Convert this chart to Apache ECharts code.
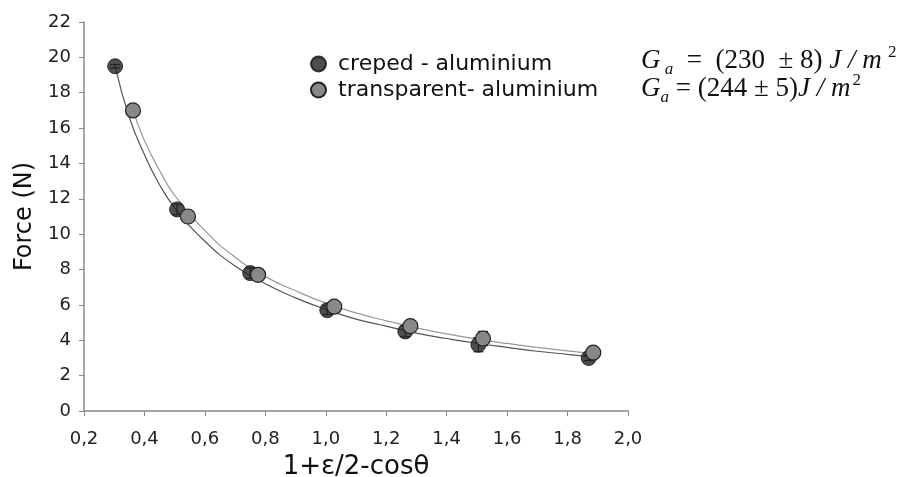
<!DOCTYPE html>
<html><head><meta charset="utf-8">
<script src="https://cdn.jsdelivr.net/npm/echarts@6/dist/echarts.min.js"></script>
<style>html,body{margin:0;padding:0;background:#fff}#c{width:912px;height:477px}</style>
</head><body><div id="c"></div>
<script>
// Measured points
const crepedX = [0.303, 0.508, 0.750, 1.005, 1.263, 1.505, 1.870];
const crepedY = [19.5, 11.4, 7.8, 5.7, 4.5, 3.75, 3.0];
const crepedErr = [0.1, 0.3, 0.3, 0.25, 0.3, 0.4, 0.15];
const transX = [0.362, 0.544, 0.776, 1.028, 1.280, 1.520, 1.885];
const transY = [17.0, 11.0, 7.7, 5.9, 4.8, 4.1, 3.3];
const transErr = [0.2, 0.3, 0.3, 0.2, 0.2, 0.4, 0.15];
// Fit curves
const crepedFitX = [0.303, 0.35, 0.40, 0.45, 0.50, 0.60, 0.70, 0.80, 0.90, 1.00, 1.10, 1.20, 1.30, 1.40, 1.50, 1.60, 1.70, 1.80, 1.87];
const crepedFitY = [19.5, 16.6, 14.5, 12.8, 11.5, 9.6, 8.2, 7.2, 6.4, 5.75, 5.2, 4.8, 4.4, 4.1, 3.83, 3.6, 3.38, 3.2, 3.08];
const transFitX = [0.362, 0.40, 0.45, 0.50, 0.60, 0.70, 0.80, 0.90, 1.00, 1.10, 1.20, 1.30, 1.40, 1.50, 1.60, 1.70, 1.80, 1.885];
const transFitY = [17.0, 15.3, 13.6, 12.2, 10.2, 8.7, 7.6, 6.8, 6.1, 5.55, 5.1, 4.7, 4.36, 4.07, 3.82, 3.6, 3.4, 3.24];
const xTicks = [0.2, 2.0, 0.2];
const yTicks = [0, 22, 2];
const seriesNames = ['creped - aluminium', 'transparent- aluminium'];

const zip = (a, b) => a.map((v, i) => [v, b[i]]);
const errData = (xs, ys, es) => xs.map((v, i) => [v, ys[i] - es[i], ys[i] + es[i]]);

function errRender(params, api) {
  const x = api.value(0);
  const lo = api.coord([x, api.value(1)]);
  const hi = api.coord([x, api.value(2)]);
  const hw = 5;
  const st = { stroke: '#222', lineWidth: 1.2 };
  return { type: 'group', children: [
    { type: 'line', shape: { x1: lo[0], y1: lo[1], x2: hi[0], y2: hi[1] }, style: st },
    { type: 'line', shape: { x1: lo[0] - hw, y1: lo[1], x2: lo[0] + hw, y2: lo[1] }, style: st },
    { type: 'line', shape: { x1: hi[0] - hw, y1: hi[1], x2: hi[0] + hw, y2: hi[1] }, style: st }
  ]};
}

const SERIF = 'Liberation Serif, serif';
const richF = {
  i: { fontFamily: SERIF, fontStyle: 'italic', fontSize: 27, fill: '#111' },
  u: { fontFamily: SERIF, fontSize: 27, fill: '#111' },
  s: { fontFamily: SERIF, fontStyle: 'italic', fontSize: 17, fill: '#111', padding: [18, 0, 0, 0] },
  p: { fontFamily: SERIF, fontSize: 17, fill: '#111', padding: [0, 0, 16, 2] }
};

const chart = echarts.init(document.getElementById('c'));
const lab = { fontFamily: 'DejaVu Sans, sans-serif', fontSize: 18, color: '#222' };
chart.setOption({
  animation: false,
  grid: { left: 84, right: 284, top: 22, bottom: 66, outerBoundsMode: 'none', containLabel: false },
  xAxis: {
    type: 'value', min: xTicks[0], max: xTicks[1], interval: xTicks[2],
    name: '1+ε/2-cosθ', nameLocation: 'middle', nameGap: 43,
    nameTextStyle: { fontFamily: 'DejaVu Sans, sans-serif', fontSize: 26, color: '#111' },
    axisLine: { lineStyle: { color: '#888', width: 1.5 } },
    axisTick: { show: true, length: 5, lineStyle: { color: '#888' } },
    axisLabel: Object.assign({ margin: 19, formatter: v => v.toFixed(1).replace('.', ',') }, lab),
    splitLine: { show: false }
  },
  yAxis: {
    type: 'value', min: yTicks[0], max: yTicks[1], interval: yTicks[2],
    name: 'Force (N)', nameLocation: 'middle', nameGap: 42,
    nameTextStyle: { fontFamily: 'DejaVu Sans, sans-serif', fontSize: 24, color: '#111' },
    axisLine: { show: true, lineStyle: { color: '#888', width: 1.5 } },
    axisTick: { show: true, length: 5, lineStyle: { color: '#888' } },
    axisLabel: Object.assign({ margin: 13 }, lab),
    splitLine: { show: false }
  },
  legend: {
    left: 305, top: 48, orient: 'vertical', itemGap: 4, itemWidth: 15, itemHeight: 15,
    data: [
      { name: seriesNames[0], icon: 'circle' },
      { name: seriesNames[1], icon: 'circle' }
    ],
    textStyle: { fontFamily: 'DejaVu Sans, sans-serif', fontSize: 22, color: '#111', padding: [0, 0, 0, 7] }
  },
  graphic: [
    { type: 'text', left: 641, top: 44, style: {
      text: '{i|G}{s| a}{u|  =  (230  ± 8)}{i| J / m}{p| 2}', rich: richF } },
    { type: 'text', left: 641, top: 72, style: {
      text: '{i|G}{s|a}{u| = (244 ± 5)}{i|J / m}{p|2}', rich: richF } }
  ],
  series: [
    { type: 'line', data: zip(crepedFitX, crepedFitY), smooth: true, showSymbol: false, silent: true,
      lineStyle: { color: '#555', width: 1.2 }, z: 1 },
    { type: 'line', data: zip(transFitX, transFitY), smooth: true, showSymbol: false, silent: true,
      lineStyle: { color: '#999', width: 1.2 }, z: 1 },
    { type: 'custom', renderItem: errRender, data: errData(crepedX, crepedY, crepedErr), z: 2 },
    { type: 'custom', renderItem: errRender, data: errData(transX, transY, transErr), z: 2 },
    { name: seriesNames[0], type: 'scatter', data: zip(crepedX, crepedY), symbolSize: 15,
      itemStyle: { color: '#222', borderColor: '#111', borderWidth: 1 }, z: 3 },
    { name: seriesNames[1], type: 'scatter', data: zip(transX, transY), symbolSize: 15,
      itemStyle: { color: '#888', borderColor: '#222', borderWidth: 1.2, opacity: 1 }, z: 4 }
  ]
});
</script></body></html>
